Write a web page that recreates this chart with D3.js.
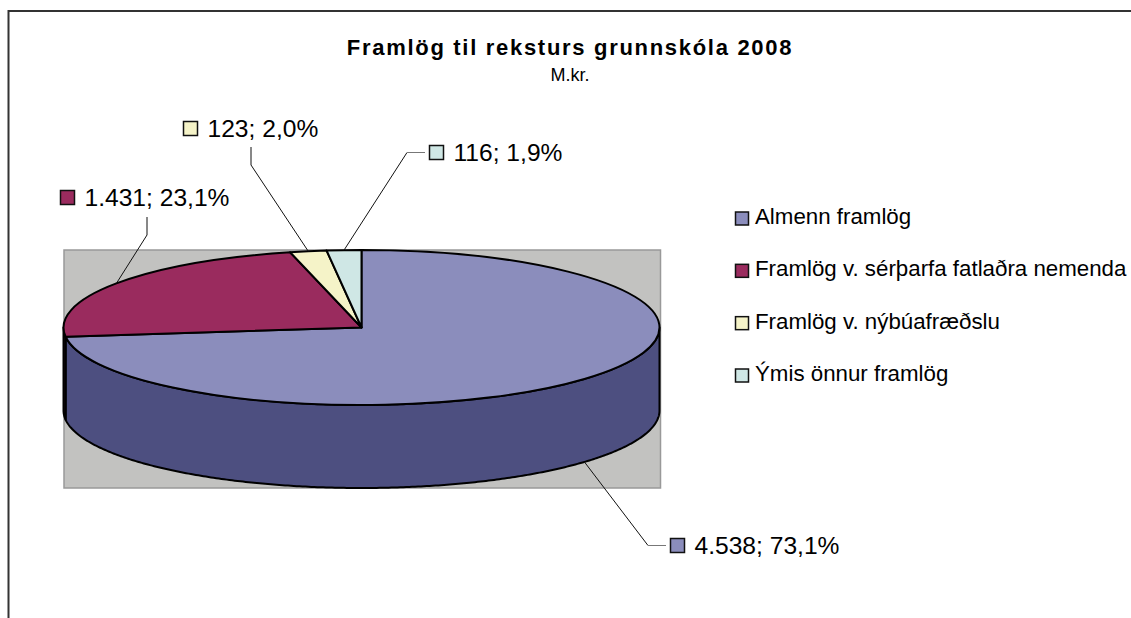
<!DOCTYPE html>
<html>
<head>
<meta charset="utf-8">
<script src="https://cdnjs.cloudflare.com/ajax/libs/d3/7.8.5/d3.min.js"></script>
<style>
html, body { margin: 0; padding: 0; background: #fff; overflow: hidden; }
text { font-family: "Liberation Sans", Arial, sans-serif; fill: #000; }
</style>
</head>
<body>
<div id="chart"></div>
<script>
// values
const categories = ['Almenn framlög', 'Framlög v. sérþarfa fatlaðra nemenda', 'Framlög v. nýbúafræðslu', 'Ýmis önnur framlög'];
const values = [4538, 1431, 123, 116];
const colors = ['#8b8dbc', '#9a2b5e', '#f5f3c8', '#cfe7e5'];
const sideColors = ['#4d4f80', '#4d1a33', '#7a7964', '#676f70'];

const width = 1131, height = 618;
const cx = 361.5, cy = 327.5, rx = 298, ry = 77.5, depth = 83;

const svg = d3.select('#chart')
  .append('svg')
  .attr('width', width)
  .attr('height', height);

// outer frame, only top and left show up in the photo
svg.append('path')
  .attr('d', 'M8.5,' + height + 'V11H' + width)
  .attr('fill', 'none')
  .attr('stroke', '#333')
  .attr('stroke-width', 2);

svg.append('text').attr('x', 570).attr('y', 54.5)
  .attr('text-anchor', 'middle')
  .attr('font-size', 22).attr('font-weight', 'bold')
  .attr('letter-spacing', 1.7)
  .text('Framlög til reksturs grunnskóla 2008');
svg.append('text').attr('x', 570).attr('y', 81)
  .attr('text-anchor', 'middle')
  .attr('font-size', 18)
  .text('M.kr.');

// grey plot area
svg.append('rect')
  .attr('x', cx - rx + 0.5).attr('y', cy - ry)
  .attr('width', rx * 2 + 0.5).attr('height', ry * 2 + depth)
  .attr('fill', '#c2c2c0')
  .attr('stroke', '#999')
  .attr('stroke-width', 1.5);

const pie = d3.pie().sort(null).value(d => d);
const arcs = pie(values);
const total = d3.sum(values);

// tilted disc: unit circle angle -> screen position
function project(a, down) {
  return [cx + rx * Math.sin(a), cy - ry * Math.cos(a) + (down || 0)];
}

// front wall, only the part between 90 and 270 degrees is visible
const line = d3.line();
arcs.forEach(function(d, i) {
  const a0 = Math.max(d.startAngle, Math.PI / 2);
  const a1 = Math.min(d.endAngle, Math.PI * 1.5);
  if (a1 <= a0) return;
  const steps = d3.range(a0, a1, 0.01).concat([a1]);
  const top = steps.map(a => project(a));
  const bottom = steps.slice().reverse().map(a => project(a, depth));
  svg.append('path')
    .attr('d', line(top.concat(bottom)) + 'Z')
    .attr('fill', sideColors[i])
    .attr('stroke', '#000')
    .attr('stroke-width', 2)
    .attr('stroke-linejoin', 'round');
});

// top of the disc
const arc = d3.arc().innerRadius(0).outerRadius(rx);
svg.append('g')
  .attr('transform', 'translate(' + cx + ',' + cy + ') scale(1,' + (ry / rx) + ')')
  .selectAll('.slice')
  .data(arcs)
  .enter()
  .append('path')
  .attr('class', 'slice')
  .attr('d', arc)
  .attr('fill', (d, i) => colors[i])
  .attr('stroke', '#000')
  .attr('stroke-width', 2)
  .attr('stroke-linejoin', 'round')
  .attr('vector-effect', 'non-scaling-stroke');

// data labels with Icelandic number format
const loc = d3.formatLocale({ decimal: ',', thousands: '.', grouping: [3], currency: ['', ''] });
const fmtValue = loc.format(',d');
const fmtPct = loc.format('.1%');

const labelPos = [
  { x: 670, y: 538, elbow: [648, 545.5], tail: 666, down: depth },
  { x: 60, y: 190, elbow: [147, 235], riser: 217 },
  { x: 183, y: 121, elbow: [251, 165], riser: 147 },
  { x: 429, y: 145, elbow: [407, 152.5], tail: 425 }
];

arcs.forEach(function(d, i) {
  const p = labelPos[i];
  const mid = (d.startAngle + d.endAngle) / 2;
  const anchor = project(mid, p.down);
  let pts = [anchor, p.elbow];
  if (p.riser) pts.push([p.elbow[0], p.riser]);
  svg.append('path')
    .attr('d', line(pts))
    .attr('fill', 'none')
    .attr('stroke', '#111')
    .attr('stroke-width', 1);
  if (p.tail) {
    svg.append('line')
      .attr('x1', p.elbow[0]).attr('x2', p.tail)
      .attr('y1', p.elbow[1]).attr('y2', p.elbow[1])
      .attr('stroke', '#777')
      .attr('stroke-width', 1);
  }
  svg.append('rect')
    .attr('x', p.x + 0.5).attr('y', p.y + 0.5)
    .attr('width', 14).attr('height', 14)
    .attr('fill', colors[i])
    .attr('stroke', '#111')
    .attr('stroke-width', 1.5);
  svg.append('text')
    .attr('x', p.x + 24.5).attr('y', p.y + 15.5)
    .attr('font-size', 24.6)
    .text(fmtValue(d.value) + '; ' + fmtPct(d.value / total));
});

// legend
const legendY = d3.scalePoint().domain(categories).range([218.5, 375.5]);
const legend = svg.selectAll('.legend')
  .data(categories)
  .enter()
  .append('g')
  .attr('class', 'legend')
  .attr('transform', d => 'translate(735,' + legendY(d) + ')');
legend.append('rect')
  .attr('x', 0.5).attr('y', -6.5)
  .attr('width', 13).attr('height', 13)
  .attr('fill', (d, i) => colors[i])
  .attr('stroke', '#111')
  .attr('stroke-width', 1.5);
legend.append('text')
  .attr('x', 20).attr('y', 5.5)
  .attr('font-size', 22.3)
  .text(d => d);
</script>
</body>
</html>
